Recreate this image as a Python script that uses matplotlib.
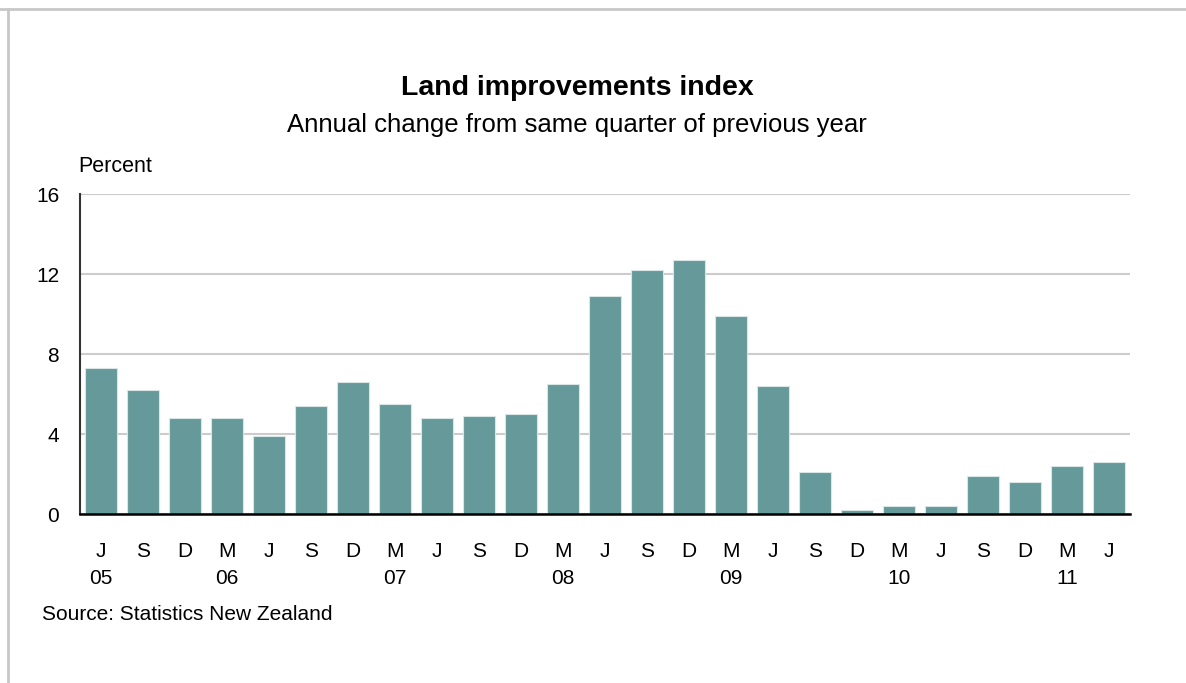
from matplotlib import pyplot as plt
import numpy as np

quarters = ["J", "S", "D", "M"] * 6 + ["J"]
# year label sits under the first J, then under each M
years = ["05", "", "", "06", "", "", "", "07", "", "", "", "08", "", "", "",
         "09", "", "", "", "10", "", "", "", "11", ""]
change = [7.3, 6.2, 4.8, 4.8, 3.9, 5.4, 6.6, 5.5, 4.8, 4.9, 5.0, 6.5, 10.9,
          12.2, 12.7, 9.9, 6.4, 2.1, 0.2, 0.4, 0.4, 1.9, 1.6, 2.4, 2.6]


def main():
    plt.rcParams['font.family'] = ['Liberation Sans', 'DejaVu Sans']
    W, H = 1186, 683
    fig = plt.figure(figsize=(W / 100, H / 100), dpi=100)
    ax = fig.add_axes([80 / W, 1 - 514 / H, 1050 / W, 320 / H])

    x = np.arange(len(change))
    ax.bar(x, change, width=0.74, color="#669999", edgecolor="#d8e6e6",
           linewidth=0.8, zorder=3)

    ax.set_xlim(-0.5, len(change) - 0.5)
    ax.set_ylim(0, 16)
    ax.set_yticks([0, 4, 8, 12, 16])
    ax.yaxis.grid(True, color="#cccccc", linewidth=1.5, zorder=0)
    ax.tick_params(axis="y", length=0, pad=15, labelsize=15)
    ax.tick_params(axis="x", length=0, pad=20, labelsize=15)

    labels = [q + "\n" + y for q, y in zip(quarters, years)]
    ax.set_xticks(x)
    ax.set_xticklabels(labels, linespacing=1.55)

    for s in ["top", "right"]:
        ax.spines[s].set_visible(False)
    ax.spines["left"].set_color("#333333")
    ax.spines["left"].set_linewidth(1.5)
    ax.spines["bottom"].set_color("black")
    ax.spines["bottom"].set_linewidth(1.8)
    ax.spines["bottom"].set_zorder(4)

    fig.text(577 / W, 1 - 88 / H, "Land improvements index", ha="center",
             va="center", fontsize=20.5, fontweight="bold")
    fig.text(577 / W, 1 - 125 / H, "Annual change from same quarter of previous year",
             ha="center", va="center", fontsize=18.5)
    fig.text(78 / W, 1 - 167 / H, "Percent", ha="left", va="center", fontsize=15.5)
    fig.text(42 / W, 1 - 614 / H, "Source: Statistics New Zealand", ha="left",
             va="center", fontsize=15)

    # outer frame lines (top and left only)
    fig.add_artist(plt.Line2D([0, 1], [1 - 9 / H, 1 - 9 / H], color="#c8c8c8",
                              linewidth=2, transform=fig.transFigure))
    fig.add_artist(plt.Line2D([8 / W, 8 / W], [0, 1 - 9 / H], color="#c8c8c8",
                              linewidth=2, transform=fig.transFigure))

    fig.savefig("out.png", dpi=100)


if __name__ == "__main__":
    main()
